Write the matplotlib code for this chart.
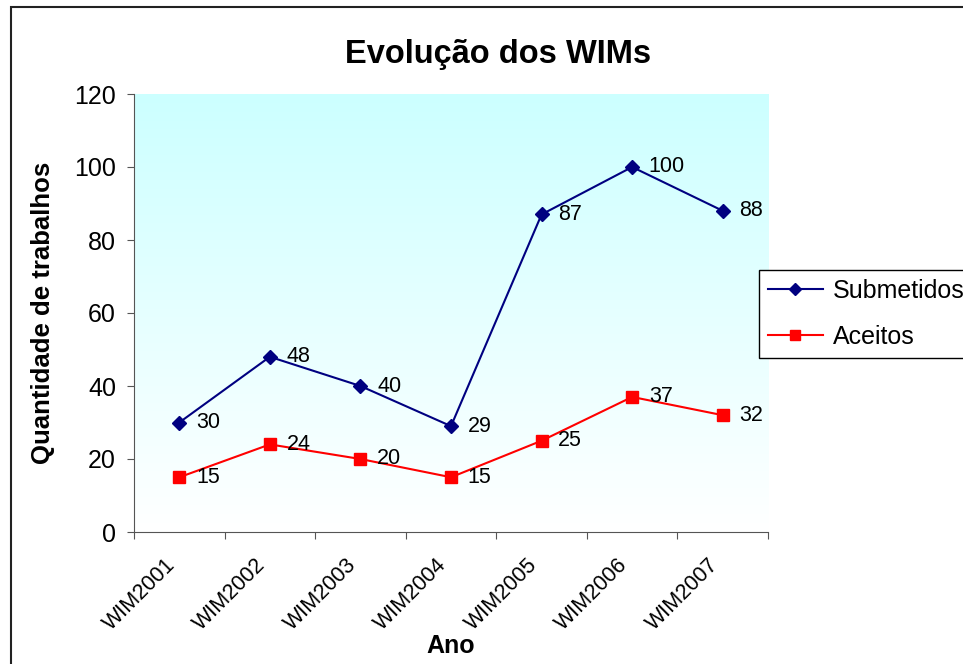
import numpy as np
import matplotlib
matplotlib.use("Agg")
import matplotlib.pyplot as plt
from matplotlib.patches import Rectangle
from matplotlib.colors import LinearSegmentedColormap

plt.rcParams['font.family'] = ['Liberation Sans', 'DejaVu Sans']

anos = ["WIM2001", "WIM2002", "WIM2003", "WIM2004", "WIM2005", "WIM2006", "WIM2007"]
submetidos = [30, 48, 40, 29, 87, 100, 88]
aceitos = [15, 24, 20, 15, 25, 37, 32]
yticks = [0, 20, 40, 60, 80, 100, 120]

W, H = 963, 664
fig = plt.figure(figsize=(W / 100, H / 100), dpi=100)

# outer chart border (runs off the right/bottom edge like the original)
fig.patches.append(Rectangle((11 / W, -0.05), 1.2, 1 - 7 / H + 0.05, transform=fig.transFigure,
                             fill=False, edgecolor="#222222", linewidth=1.5))

ax = fig.add_axes([134 / W, 1 - 532 / H, (768 - 134) / W, (532 - 94) / H])
x = np.arange(len(anos))

# gradient plot area
grad = np.linspace(0, 1, 256).reshape(-1, 1)
cmap = LinearSegmentedColormap.from_list("bg", ["#FFFFFF", "#CCFFFF"])
ax.imshow(grad, cmap=cmap, origin="lower", aspect="auto",
          extent=[-0.5, len(anos) - 0.5, 0, 120], zorder=0)

ax.plot(x, submetidos, color="#000080", lw=1.5, marker="D", ms=7.5, label="Submetidos", zorder=3)
ax.plot(x, aceitos, color="#FF0000", lw=1.5, marker="s", ms=9, label="Aceitos", zorder=3)

for xi, v in zip(x, submetidos):
    ax.annotate(str(v), (xi, v), xytext=(12, 0), textcoords="offset points",
                ha="left", va="center", fontsize=15.5)
for xi, v in zip(x, aceitos):
    ax.annotate(str(v), (xi, v), xytext=(12, 0), textcoords="offset points",
                ha="left", va="center", fontsize=15.5)

ax.set_xlim(-0.5, len(anos) - 0.5)
ax.set_ylim(0, 120)
ax.set_yticks(yticks)
ax.tick_params(axis="y", labelsize=18, length=5, direction="out", pad=8, color="#555555")

ax.set_xticks(np.arange(-0.5, len(anos)), minor=False)
ax.set_xticklabels([])
ax.set_xticks(x, minor=True)
ax.set_xticklabels(anos, minor=True, rotation=45, ha="right", va="top", fontsize=15.5)
ax.tick_params(axis="x", which="major", length=5, direction="out", color="#555555")
ax.tick_params(axis="x", which="minor", length=0, pad=16)

for s in ["top", "right"]:
    ax.spines[s].set_visible(False)
for s in ["left", "bottom"]:
    ax.spines[s].set_color("#555555")

ax.set_xlabel("Ano", fontsize=18, fontweight="bold", labelpad=0)
ax.set_ylabel("Quantidade de trabalhos", fontsize=18.5, fontweight="bold", labelpad=14)
fig.text(498 / W, 1 - 54 / H, "Evolução dos WIMs", ha="center", va="center",
         fontsize=23.5, fontweight="bold")

leg = fig.legend(loc="upper left", bbox_to_anchor=(759 / W, 1 - 270 / H), fontsize=18,
                 frameon=True, fancybox=False, edgecolor="black", framealpha=1,
                 handlelength=2.2, handletextpad=0.4, borderpad=0.35, labelspacing=0.9,
                 borderaxespad=0, markerscale=0.85)
leg.get_frame().set_linewidth(1)

fig.savefig("out.png", dpi=100)
